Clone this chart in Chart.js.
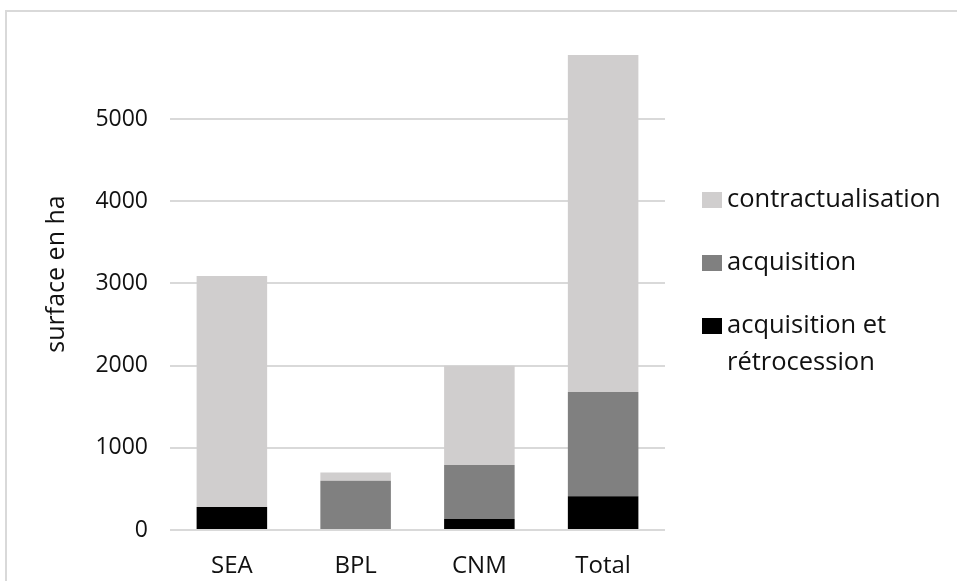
<!DOCTYPE html>
<html>
<head>
<meta charset="utf-8">
<title>Surface en ha</title>
<script src="https://cdn.jsdelivr.net/npm/chart.js@4.4.1/dist/chart.umd.min.js"></script>
<style>
    html, body { margin: 0; padding: 0; background: #ffffff; overflow: hidden; }
    #frame {
        position: absolute; left: 5px; top: 10px; width: 1000px; height: 1000px;
        border-left: 2px solid #d9d9d9; border-top: 2px solid #d9d9d9;
    }
    #wrap { position: absolute; left: 0; top: 0; width: 957px; height: 581px; }
</style>
</head>
<body>
<div id="frame"></div>
<div id="wrap"><canvas id="surfaceChart" width="957" height="581"></canvas></div>
<script>
// ---- data ----
const categories = ['SEA', 'BPL', 'CNM', 'Total'];
const retrocession = [280, 0, 135, 410];          // acquisition et rétrocession
const acquisition = [0, 600, 655, 1270];
const contractualisation = [2810, 100, 1210, 4100];
const seriesLabels = ['acquisition et rétrocession', 'acquisition', 'contractualisation'];
const seriesColors = ['#000000', '#808080', '#D0CECE'];
const yTicks = [0, 1000, 2000, 3000, 4000, 5000];

const FONT = '"Open Sans", "DejaVu Sans", sans-serif';
Chart.defaults.font.family = FONT;
Chart.defaults.color = '#111111';

// legend drawn on the right, items stacked top to bottom, long labels wrapped
const sideLegend = {
    id: 'sideLegend',
    afterDraw(chart, args, opts) {
        const ctx = chart.ctx;
        ctx.save();
        ctx.font = opts.fontSize + 'px ' + FONT;
        ctx.textBaseline = 'middle';
        ctx.textAlign = 'left';
        const items = chart.data.datasets.map((ds, i) => ({ ds, i })).reverse();
        items.forEach((item, k) => {
            const cy = opts.firstY + k * opts.itemGap;
            ctx.fillStyle = item.ds.backgroundColor;
            ctx.fillRect(opts.x, cy - opts.boxH / 2, opts.boxW, opts.boxH);
            // wrap words
            const words = item.ds.label.split(' ');
            const lines = [];
            let line = '';
            words.forEach(w => {
                const test = line ? line + ' ' + w : w;
                if (line && ctx.measureText(test).width > opts.maxWidth) {
                    lines.push(line);
                    line = w;
                } else {
                    line = test;
                }
            });
            lines.push(line);
            ctx.fillStyle = '#111111';
            lines.forEach((l, j) => {
                ctx.fillText(l, opts.x + opts.textOffset, cy + j * opts.lineGap);
            });
        });
        ctx.restore();
    }
};

const ctx = document.getElementById('surfaceChart');
new Chart(ctx, {
    type: 'bar',
    data: {
        labels: categories,
        datasets: [
            { label: seriesLabels[0], data: retrocession, backgroundColor: seriesColors[0] },
            { label: seriesLabels[1], data: acquisition, backgroundColor: seriesColors[1] },
            { label: seriesLabels[2], data: contractualisation, backgroundColor: seriesColors[2] }
        ]
    },
    options: {
        responsive: false,
        animation: false,
        layout: { padding: { top: 18, right: 292, bottom: 0, left: 0 } },
        datasets: {
            bar: { barPercentage: 0.57, categoryPercentage: 1.0, borderWidth: 0 }
        },
        plugins: {
            legend: { display: false },
            tooltip: { enabled: true },
            sideLegend: {
                x: 702, firstY: 200, itemGap: 63, lineGap: 37,
                boxW: 20, boxH: 16, textOffset: 25, maxWidth: 215, fontSize: 25.5
            }
        },
        scales: {
            x: {
                stacked: true,
                grid: { display: false },
                border: { display: false },
                ticks: { font: { size: 24 }, padding: 14, color: '#111111' },
                afterFit: function(scale) {
                    scale.height = 51;
                    scale.paddingLeft = 0;
                    scale.paddingRight = 0;
                }
            },
            y: {
                stacked: true,
                min: 0,
                max: 6230,
                afterBuildTicks: function(scale) {
                    scale.ticks = yTicks.map(v => ({ value: v }));
                },
                grid: { color: '#D9D9D9', lineWidth: 2, drawTicks: false },
                border: { display: false },
                ticks: {
                    font: { size: 23 }, padding: 22, color: '#111111',
                    callback: function(value) { return String(value); }
                },
                title: {
                    display: true,
                    text: 'surface en ha',
                    font: { size: 25 },
                    color: '#111111',
                    padding: { top: 42, bottom: 0 }
                },
                afterFit: function(scale) {
                    scale.width = 170;
                    scale.paddingTop = 0;
                    scale.paddingBottom = 0;
                }
            }
        }
    },
    plugins: [sideLegend]
});
</script>
</body>
</html>
